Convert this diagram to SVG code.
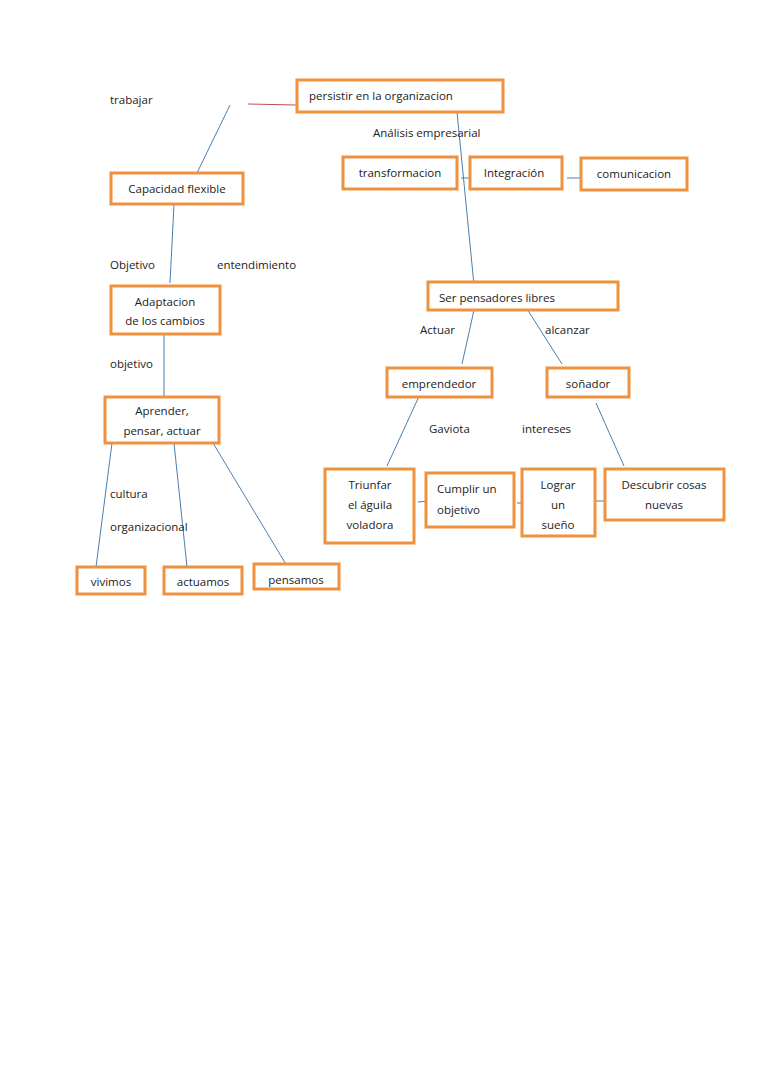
<svg xmlns="http://www.w3.org/2000/svg" width="768" height="1087" viewBox="0 0 768 1087">
<style>
rect{fill:#fff;stroke:#F0913F;stroke-width:3}
text{font-family:"Open Sans","Liberation Sans",sans-serif;font-size:11.5px;fill:#222}
.c{text-anchor:middle}
line{stroke:#4A7DB0;stroke-width:1}
</style>
<rect width="768" height="1087" style="fill:#fff;stroke:none"/>
<g id="connectors">
<line x1="248" y1="104" x2="296" y2="105" style="stroke:#C0504D"/>
<line x1="230" y1="105" x2="197" y2="173"/>
<line x1="174" y1="204" x2="170" y2="283"/>
<line x1="164" y1="334" x2="164" y2="397"/>
<line x1="457" y1="112" x2="474" y2="285"/>
<line x1="461" y1="178" x2="475" y2="178"/>
<line x1="567" y1="178" x2="582" y2="178"/>
<line x1="474" y1="310" x2="462" y2="364"/>
<line x1="527" y1="309" x2="562" y2="364"/>
<line x1="421" y1="392" x2="387" y2="466"/>
<line x1="596" y1="403" x2="624" y2="466"/>
<line x1="418" y1="502" x2="429" y2="501"/>
<line x1="517" y1="503" x2="527" y2="503"/>
<line x1="596" y1="501" x2="606" y2="501"/>
<line x1="112" y1="443" x2="96" y2="567"/>
<line x1="174" y1="443" x2="187" y2="567"/>
<line x1="213" y1="443" x2="287" y2="566"/>
</g>
<g id="labels">
<text x="110" y="104">trabajar</text>
<text x="373" y="137">Análisis empresarial</text>
<text x="110" y="269">Objetivo</text>
<text x="217" y="269">entendimiento</text>
<text x="110" y="368">objetivo</text>
<text x="420" y="334">Actuar</text>
<text x="545" y="334">alcanzar</text>
<text x="429" y="433">Gaviota</text>
<text x="522" y="433">intereses</text>
<text x="110" y="498">cultura</text>
<text x="110" y="531">organizacional</text>
</g>
<g id="persistir"><rect x="297" y="80" width="206" height="32"/><text x="309" y="100">persistir en la organizacion</text></g>
<g id="capacidad"><rect x="111" y="173" width="132" height="31"/><text class="c" x="177" y="193">Capacidad flexible</text></g>
<g id="adaptacion"><rect x="111" y="286" width="109" height="48"/><text class="c" x="165" y="306">Adaptacion</text><text class="c" x="165" y="325">de los cambios</text></g>
<g id="aprender"><rect x="105" y="397" width="114" height="46"/><text class="c" x="162" y="415">Aprender,</text><text class="c" x="162" y="435">pensar, actuar</text></g>
<g id="vivimos"><rect x="77" y="567" width="68" height="27"/><text class="c" x="111" y="586">vivimos</text></g>
<g id="actuamos"><rect x="164" y="567" width="78" height="27"/><text class="c" x="203" y="586">actuamos</text></g>
<g id="pensamos"><rect x="254" y="564" width="85" height="25"/><text class="c" x="296" y="584">pensamos</text></g>
<g id="transformacion"><rect x="343" y="157" width="114" height="32"/><text class="c" x="400" y="177">transformacion</text></g>
<g id="integracion"><rect x="470" y="157" width="92" height="32"/><text class="c" x="514" y="177">Integración</text></g>
<g id="comunicacion"><rect x="581" y="158" width="106" height="32"/><text class="c" x="634" y="178">comunicacion</text></g>
<g id="ser"><rect x="428" y="282" width="190" height="28"/><text x="439" y="302">Ser pensadores libres</text></g>
<g id="emprendedor"><rect x="387" y="368" width="105" height="29"/><text class="c" x="439" y="388">emprendedor</text></g>
<g id="sonador"><rect x="547" y="368" width="82" height="29"/><text class="c" x="588" y="388">soñador</text></g>
<g id="triunfar"><rect x="325" y="469" width="89" height="74"/><text class="c" x="370" y="489">Triunfar</text><text class="c" x="370" y="509">el águila</text><text class="c" x="370" y="529">voladora</text></g>
<g id="cumplir"><rect x="426" y="473" width="88" height="54"/><text x="437" y="493">Cumplir un</text><text x="437" y="514">objetivo</text></g>
<g id="lograr"><rect x="522" y="469" width="73" height="67"/><text class="c" x="558" y="489">Lograr</text><text class="c" x="558" y="509">un</text><text class="c" x="558" y="529">sueño</text></g>
<g id="descubrir"><rect x="605" y="469" width="119" height="51"/><text class="c" x="664" y="489">Descubrir cosas</text><text class="c" x="664" y="509">nuevas</text></g>
</svg>
